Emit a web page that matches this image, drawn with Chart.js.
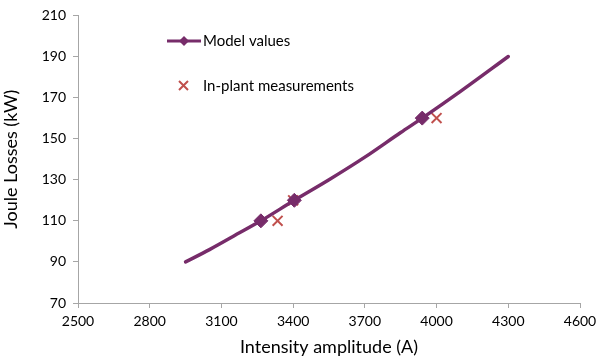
<!DOCTYPE html>
<html>
<head>
<meta charset="utf-8">
<script src="https://cdn.jsdelivr.net/npm/chart.js@4"></script>
<style>
  html, body { margin: 0; padding: 0; background: #fff; }
  #wrap { width: 596px; height: 360px; }
</style>
</head>
<body>
<div id="wrap"><canvas id="joule-chart" width="596" height="360"></canvas></div>
<script>
// ================== data ======================
const curveX = [2950, 3050, 3150, 3265, 3405, 3550, 3700, 3850, 3940, 4100, 4300];
const curveY = [90, 96, 102.5, 110, 120, 130, 141, 153, 160, 173, 190];
const modelX = [3265, 3405, 3940];
const modelY = [110, 120, 160];
const plantX = [3335, 3400, 4000];
const plantY = [110, 120, 160];
const xTicks = [2500, 2800, 3100, 3400, 3700, 4000, 4300, 4600];
const yTicks = [70, 90, 110, 130, 150, 170, 190, 210];

const purple = "#772C6A";
const red = "#C0504D";
const axisGrey = "#A6A6A6";
const font = "Lato, 'Open Sans', sans-serif";

const toPoints = (xs, ys) => xs.map((x, i) => ({ x: x, y: ys[i] }));

// ================== legend (drawn inside the plot) ======================
const legendPlugin = {
  id: "insideLegend",
  afterDraw(chart) {
    const ctx = chart.ctx;
    ctx.save();
    // model values: line + diamond
    ctx.strokeStyle = purple;
    ctx.lineWidth = 3;
    ctx.beginPath();
    ctx.moveTo(167, 41);
    ctx.lineTo(201, 41);
    ctx.stroke();
    ctx.fillStyle = purple;
    ctx.beginPath();
    ctx.moveTo(184, 36);
    ctx.lineTo(189, 41);
    ctx.lineTo(184, 46);
    ctx.lineTo(179, 41);
    ctx.closePath();
    ctx.fill();
    // in-plant: cross
    ctx.strokeStyle = red;
    ctx.lineWidth = 2;
    ctx.beginPath();
    ctx.moveTo(179, 81);
    ctx.lineTo(188, 90);
    ctx.moveTo(188, 81);
    ctx.lineTo(179, 90);
    ctx.stroke();
    ctx.fillStyle = "#000";
    ctx.font = "15px " + font;
    ctx.textBaseline = "middle";
    ctx.fillText("Model values", 203, 41);
    ctx.fillText("In-plant measurements", 203, 86);
    ctx.restore();
  },
};

// ================== chart ======================
const jouleChart = new Chart(document.getElementById("joule-chart"), {
  type: "scatter",
  data: {
    datasets: [
      {
        label: "Model values",
        data: toPoints(curveX, curveY),
        showLine: true,
        borderColor: purple,
        borderWidth: 3.5,
        cubicInterpolationMode: "monotone",
        pointRadius: 0,
        borderCapStyle: "round",
      },
      {
        label: "Model values",
        data: toPoints(modelX, modelY),
        pointStyle: "rectRot",
        pointRadius: 7,
        backgroundColor: purple,
        borderColor: purple,
        borderWidth: 1,
      },
      {
        label: "In-plant measurements",
        data: toPoints(plantX, plantY),
        pointStyle: "crossRot",
        pointRadius: 7,
        borderColor: red,
        borderWidth: 2,
      },
    ],
  },
  options: {
    responsive: false,
    animation: false,
    layout: { padding: { top: 13, right: 16, left: 0, bottom: 0 } },
    plugins: {
      legend: { display: false },
      tooltip: { enabled: false },
    },
    scales: {
      x: {
        type: "linear",
        min: 2500,
        max: 4600,
        afterBuildTicks: (scale) => {
          scale.ticks = xTicks.map((v) => ({ value: v }));
        },
        afterFit: (scale) => {
          scale.height = 57;
          scale.paddingRight = 0;
        },
        grid: {
          drawOnChartArea: false,
          drawTicks: true,
          tickLength: 5,
          color: axisGrey,
        },
        border: { color: axisGrey, width: 1 },
        ticks: {
          color: "#000",
          font: { family: font, size: 14 },
          padding: 5,
          maxRotation: 0,
          callback: (v) => String(v),
        },
        title: {
          display: true,
          text: "Intensity amplitude (A)",
          color: "#000",
          font: { family: font, size: 18 },
          padding: { top: 0, bottom: 2 },
        },
      },
      y: {
        type: "linear",
        min: 70,
        max: 210,
        afterBuildTicks: (scale) => {
          scale.ticks = yTicks.map((v) => ({ value: v }));
        },
        afterFit: (scale) => {
          scale.width = 78;
        },
        grid: {
          drawOnChartArea: false,
          drawTicks: true,
          tickLength: 5,
          color: axisGrey,
        },
        border: { color: axisGrey, width: 1 },
        ticks: {
          color: "#000",
          font: { family: font, size: 14 },
          padding: 7,
          callback: (v) => String(v),
        },
        title: {
          display: true,
          text: "Joule Losses (kW)",
          color: "#000",
          font: { family: font, size: 18 },
          padding: { top: 0, bottom: 0 },
        },
      },
    },
  },
  plugins: [legendPlugin],
});
</script>
</body>
</html>
